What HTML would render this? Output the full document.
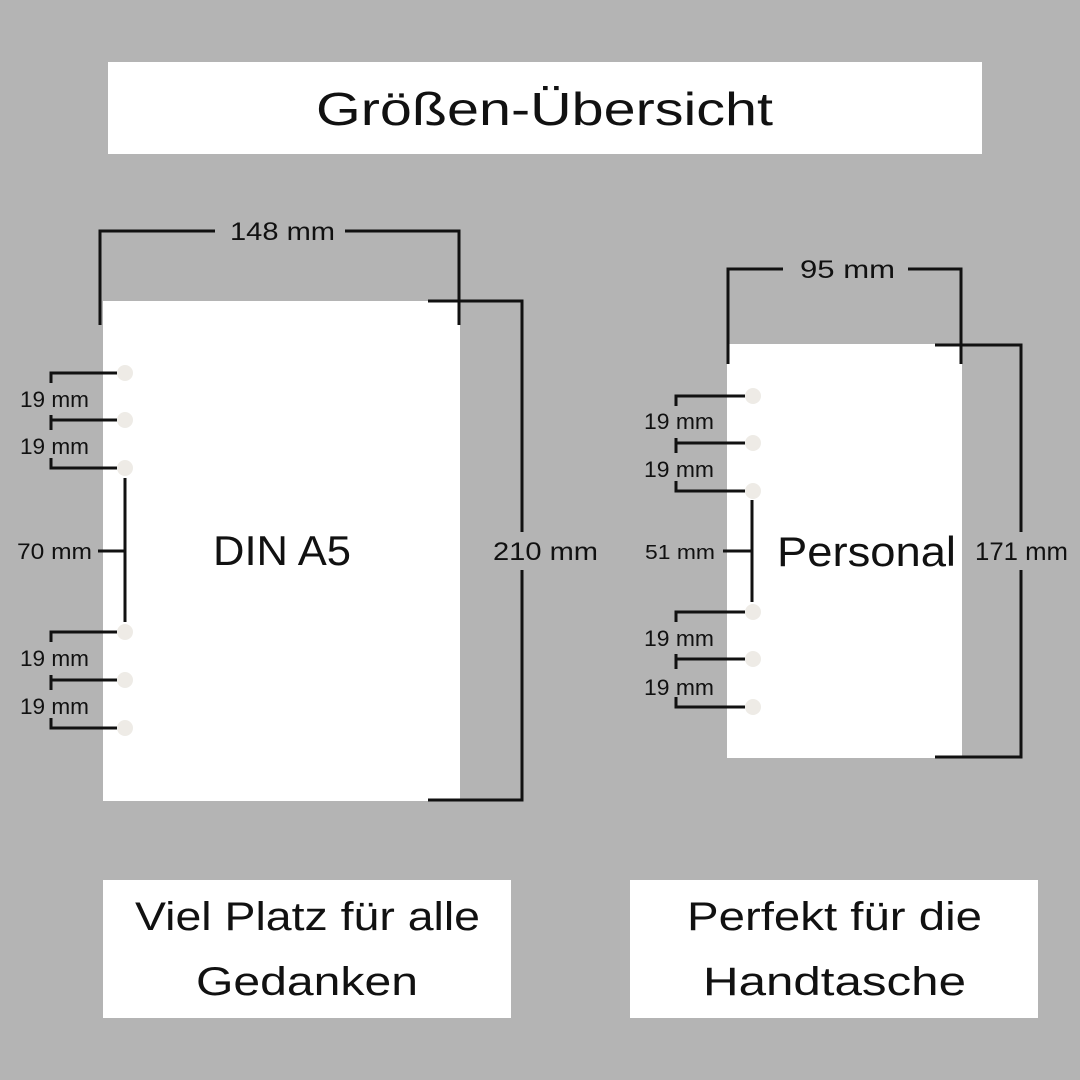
<!DOCTYPE html>
<html><head><meta charset="utf-8"><style>
html,body{margin:0;padding:0;background:#b4b4b4;}
svg{display:block}
text{font-family:"Liberation Sans","DejaVu Sans",sans-serif;fill:#111;}
</style></head><body>
<svg width="1080" height="1080" viewBox="0 0 1080 1080">
<rect width="1080" height="1080" fill="#b4b4b4"/>
<rect x="108" y="62" width="874" height="92" fill="#fff"/>
<text x="316" y="125" font-size="46" textLength="457" lengthAdjust="spacingAndGlyphs">Größen-Übersicht</text>

<!-- A5 -->
<rect x="103" y="301" width="357" height="500" fill="#fff"/>
<g stroke="#111" stroke-width="3" fill="none">
<path d="M100 325V231H215M345 231H459V325"/>
<path d="M428 301H522V532M522 570V800H428"/>
<path d="M51 383V373H117M51 415V430M51 420H117M51 458V468H117"/>
<path d="M125 478V622M98 551H125"/>
<path d="M51 642V632H117M51 675V690M51 680H117M51 718V728H117"/>
</g>
<g fill="#eeebe6">
<circle cx="125" cy="373" r="8"/><circle cx="125" cy="420" r="8"/><circle cx="125" cy="468" r="8"/>
<circle cx="125" cy="632" r="8"/><circle cx="125" cy="680" r="8"/><circle cx="125" cy="728" r="8"/>
</g>
<text x="230" y="240" font-size="25" textLength="105" lengthAdjust="spacingAndGlyphs">148 mm</text>
<text x="493" y="560" font-size="25" textLength="105" lengthAdjust="spacingAndGlyphs">210 mm</text>
<text x="213" y="565" font-size="42" textLength="138" lengthAdjust="spacingAndGlyphs">DIN A5</text>
<g font-size="22">
<text x="20" y="407" textLength="69" lengthAdjust="spacingAndGlyphs">19 mm</text>
<text x="20" y="454" textLength="69" lengthAdjust="spacingAndGlyphs">19 mm</text>
<text x="17" y="559" textLength="75" lengthAdjust="spacingAndGlyphs">70 mm</text>
<text x="20" y="666" textLength="69" lengthAdjust="spacingAndGlyphs">19 mm</text>
<text x="20" y="714" textLength="69" lengthAdjust="spacingAndGlyphs">19 mm</text>
</g>

<!-- Personal -->
<rect x="727" y="344" width="235" height="414" fill="#fff"/>
<g stroke="#111" stroke-width="3" fill="none">
<path d="M728 364V269H783M908 269H961V364"/>
<path d="M935 345H1021V532M1021 570V757H935"/>
<path d="M676 406V396H745M676 438V453M676 443H745M676 481V491H745"/>
<path d="M752 500V602M723 551H752"/>
<path d="M676 622V612H745M676 654V669M676 659H745M676 697V707H745"/>
</g>
<g fill="#eeebe6">
<circle cx="753" cy="396" r="8"/><circle cx="753" cy="443" r="8"/><circle cx="753" cy="491" r="8"/>
<circle cx="753" cy="612" r="8"/><circle cx="753" cy="659" r="8"/><circle cx="753" cy="707" r="8"/>
</g>
<text x="800" y="278" font-size="25" textLength="95" lengthAdjust="spacingAndGlyphs">95 mm</text>
<text x="975" y="560" font-size="25" textLength="93" lengthAdjust="spacingAndGlyphs">171 mm</text>
<text x="777" y="566" font-size="42" textLength="179" lengthAdjust="spacingAndGlyphs">Personal</text>
<g font-size="22">
<text x="644" y="429" textLength="70" lengthAdjust="spacingAndGlyphs">19 mm</text>
<text x="644" y="477" textLength="70" lengthAdjust="spacingAndGlyphs">19 mm</text>
<text x="645" y="559" font-size="20" textLength="70" lengthAdjust="spacingAndGlyphs">51 mm</text>
<text x="644" y="646" textLength="70" lengthAdjust="spacingAndGlyphs">19 mm</text>
<text x="644" y="695" textLength="70" lengthAdjust="spacingAndGlyphs">19 mm</text>
</g>

<!-- bottom boxes -->
<rect x="103" y="880" width="408" height="138" fill="#fff"/>
<text x="135" y="930" font-size="40" textLength="345" lengthAdjust="spacingAndGlyphs">Viel Platz für alle</text>
<text x="196" y="995" font-size="40" textLength="222" lengthAdjust="spacingAndGlyphs">Gedanken</text>
<rect x="630" y="880" width="408" height="138" fill="#fff"/>
<text x="687" y="930" font-size="40" textLength="295" lengthAdjust="spacingAndGlyphs">Perfekt für die</text>
<text x="703" y="995" font-size="40" textLength="263" lengthAdjust="spacingAndGlyphs">Handtasche</text>
</svg>
</body></html>
